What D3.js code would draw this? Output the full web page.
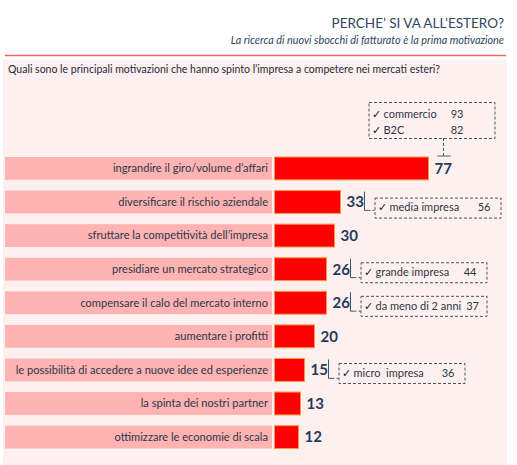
<!DOCTYPE html>
<html lang="it">
<head>
<meta charset="UTF-8">
<title>Perche' si va all'estero</title>
<script src="https://cdn.jsdelivr.net/npm/d3@7"></script>
<style>
  body { margin: 0; background: #fff; }
  text { font-family: Lato, "Open Sans", sans-serif; }
</style>
</head>
<body>
<script>

var width = 517,
    height = 465

var categories = [
  "ingrandire il giro/volume d\u2019affari",
  "diversificare il rischio aziendale",
  "sfruttare la competitivit\u00e0 dell\u2019impresa",
  "presidiare un mercato strategico",
  "compensare il calo del mercato interno",
  "aumentare i profitti",
  "le possibilit\u00e0 di accedere a nuove idee ed esperienze",
  "la spinta dei nostri partner",
  "ottimizzare le economie di scala"
]
var values = [77, 33, 30, 26, 26, 20, 15, 13, 12]

// callout boxes next to some bars
var noteRows = [0, 1, 3, 4, 6]
var noteLabels = [["commercio", "B2C"], ["media impresa"], ["grande impresa"], ["da meno di 2 anni"], ["micro  impresa"]]
var noteValues = [[93, 82], [56], [44], [37], [36]]

var svg = d3.select("body").append("svg")
    .attr("width", width)
    .attr("height", height)

// background panel and header
svg.append("rect")
    .attr("x", 3).attr("y", 60)
    .attr("width", 504).attr("height", 405)
    .attr("fill", "#fff0f0")

svg.append("line")
    .attr("x1", 5).attr("x2", 506)
    .attr("y1", 55.5).attr("y2", 55.5)
    .attr("stroke", "#ee6464").attr("stroke-width", 1.5)

svg.append("text")
    .attr("x", 504).attr("y", 28)
    .attr("text-anchor", "end")
    .attr("font-size", 13.5)
    .attr("fill", "#2e4760")
    .text("PERCHE\u2019 SI VA ALL\u2019ESTERO?")

svg.append("text")
    .attr("x", 504).attr("y", 44)
    .attr("text-anchor", "end")
    .attr("font-size", 10.8)
    .attr("font-style", "italic")
    .attr("fill", "#2e4760")
    .text("La ricerca di nuovi sbocchi di fatturato \u00e8 la prima motivazione")

svg.append("text")
    .attr("x", 8).attr("y", 73)
    .attr("font-size", 10.5)
    .attr("fill", "#1d2b3a")
    .text("Quali sono le principali motivazioni che hanno spinto l\u2019impresa a competere nei mercati esteri?")

var x = d3.scaleLinear()
    .domain([0, 100])
    .range([274.5, 474.5])

var y = d3.scaleBand()
    .domain(categories)
    .range([157, 448.5])
    .paddingInner(0.32)

var bh = y.bandwidth()

var rows = svg.selectAll(".row").data(categories).enter()
    .append("g").attr("class", "row")
    .attr("transform", function(d){ return "translate(0," + y(d) + ")" })

rows.append("rect")
    .attr("x", 5).attr("width", 267)
    .attr("height", bh)
    .attr("fill", "#ffb3b3")

rows.append("text")
    .attr("x", 268).attr("y", bh / 2)
    .attr("dy", "0.35em")
    .attr("text-anchor", "end")
    .attr("font-size", 11.1)
    .attr("fill", "#2b3846")
    .text(function(d){ return d })

rows.append("rect")
    .attr("x", x(0))
    .attr("width", function(d, i){ return x(values[i]) - x(0) })
    .attr("height", bh)
    .attr("fill", "#ff0000")
    .attr("stroke", "#f79646")
    .attr("stroke-width", 1)

rows.append("text")
    .attr("x", function(d, i){ return x(values[i]) + 6 })
    .attr("y", bh / 2)
    .attr("dy", "0.36em")
    .attr("font-size", 15)
    .attr("font-weight", "bold")
    .attr("fill", "#1f3b58")
    .text(function(d, i){ return values[i] })

// callouts
var dash = "3,2",
    noteColor = "#3d5671"

noteRows.forEach(function(r, k){
  var xe = x(values[r]),
      top = y(categories[r]),
      g = svg.append("g"),
      bx, by, bw = 126, bhh, first = k == 0

  if (first) {
    // box sits above the bar, joined by a dashed stem
    bx = xe - 60; by = 102; bhh = 36
    g.append("line")
        .attr("x1", xe + 15).attr("x2", xe + 15)
        .attr("y1", by + bhh).attr("y2", top - 1)
        .attr("stroke", noteColor).attr("stroke-dasharray", dash)
    g.append("line")
        .attr("x1", xe + 9).attr("x2", xe + 22)
        .attr("y1", top - 1).attr("y2", top - 1)
        .attr("stroke", noteColor)
  } else {
    bx = xe + 34; by = top + (k == 1 ? 7 : 4.5); bhh = 20
    var bxl = xe + 24
    g.append("path")
        .attr("d", "M" + bxl + "," + (top + 1) + "V" + (top + bh - 3) + "H" + (bxl + 4))
        .attr("fill", "none")
        .attr("stroke", noteColor)
    g.append("line")
        .attr("x1", bxl + 4).attr("x2", bx)
        .attr("y1", top + bh - 3).attr("y2", top + bh - 3)
        .attr("stroke", noteColor).attr("stroke-dasharray", "2,2")
  }

  g.append("rect")
      .attr("x", bx + 0.5).attr("y", by + 0.5)
      .attr("width", bw).attr("height", bhh)
      .attr("fill", "none")
      .attr("stroke", noteColor)
      .attr("stroke-dasharray", dash)

  noteLabels[k].forEach(function(lab, j){
    var ty = first ? by + 12 + j * 16 : by + 10
    g.append("text")
        .attr("x", bx + 3).attr("y", ty)
        .attr("dy", "0.35em")
        .attr("font-size", 10.5)
        .attr("font-family", "DejaVu Sans")
        .attr("fill", "#111c28")
        .text("\u2713")
    var lt = g.append("text")
        .attr("x", bx + 15).attr("y", ty)
        .attr("dy", "0.35em")
        .attr("font-size", 11)
        .attr("fill", "#2b3846")
        .style("white-space", "pre")
        .text(lab)
    var vt = g.append("text")
        .attr("y", ty)
        .attr("dy", "0.35em")
        .attr("text-anchor", "end")
        .attr("font-size", 11)
        .attr("fill", "#2b3846")
        .text(noteValues[k][j])
    // keep the number clear of a long label
    var labEnd = bx + 15 + lt.node().getComputedTextLength()
    var vx = Math.max(bx + bw - (first ? 31 : 10), labEnd + 5 + vt.node().getComputedTextLength())
    vt.attr("x", Math.min(vx, bx + bw - 2))
  })
})

</script>
</body>
</html>
